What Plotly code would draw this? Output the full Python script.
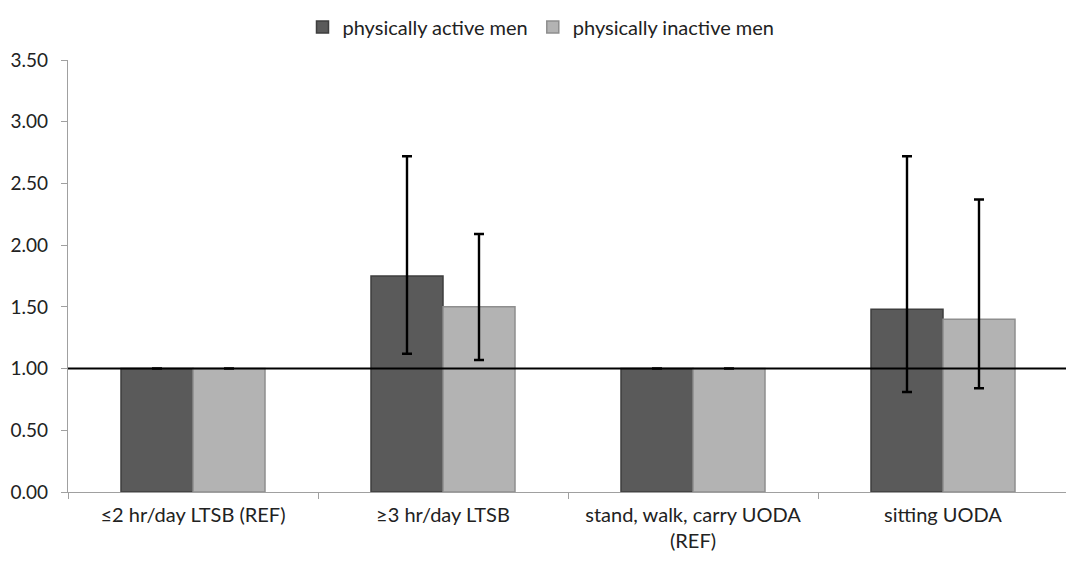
import plotly.graph_objects as go

categories = ["≤2 hr/day LTSB (REF)", "≥3 hr/day LTSB",
              "stand, walk, carry UODA<br>(REF)", "sitting UODA"]
active = [1.00, 1.75, 1.00, 1.48]
active_hi = [None, 2.72, None, 2.72]
active_lo = [None, 1.12, None, 0.81]
inactive = [1.00, 1.50, 1.00, 1.40]
inactive_hi = [None, 2.09, None, 2.37]
inactive_lo = [None, 1.07, None, 0.84]
y_ticks = [0, 0.5, 1.0, 1.5, 2.0, 2.5, 3.0, 3.5]


def errs(v, hi, lo):
    plus = [(h - x) if h is not None else None for x, h in zip(v, hi)]
    minus = [(x - l) if l is not None else None for x, l in zip(v, lo)]
    return plus, minus


ap, am = errs(active, active_hi, active_lo)
ip, im = errs(inactive, inactive_hi, inactive_lo)

font = "Lato, Open Sans, sans-serif"

fig = go.Figure()
fig.add_trace(go.Bar(
    name="physically active men", x=categories, y=active,
    marker=dict(color="#5a5a5a", line=dict(color="#3e3e3e", width=1.5)),
    error_y=dict(type="data", symmetric=False, array=ap, arrayminus=am,
                 color="black", thickness=2.4, width=5),
))
fig.add_trace(go.Bar(
    name="physically inactive men", x=categories, y=inactive,
    marker=dict(color="#b3b3b3", line=dict(color="#8e8e8e", width=1.5)),
    error_y=dict(type="data", symmetric=False, array=ip, arrayminus=im,
                 color="black", thickness=2.4, width=5),
))

fig.add_shape(type="line", xref="paper", yref="y", x0=0, x1=1.01, y0=1, y1=1,
              line=dict(color="black", width=2), layer="above")

fig.update_layout(
    width=1066, height=559,
    margin=dict(l=60, r=6, t=52, b=75, autoexpand=False),
    paper_bgcolor="white", plot_bgcolor="white",
    barmode="group", bargap=0.424, bargroupgap=0,
    font=dict(family=font, size=20, color="#222222"),
    showlegend=True,
    legend=dict(orientation="h", x=0.5, xanchor="center", xref="container",
                y=0.966, yanchor="middle", yref="container",
                font=dict(size=20), itemwidth=30, traceorder="normal"),
    xaxis=dict(showline=True, linecolor="#a0a0a0", linewidth=1.2,
               ticks="outside", tickson="boundaries", ticklen=6, tickcolor="#a0a0a0",
               ticklabelstandoff=5,
               showgrid=False, tickfont=dict(size=20, color="#222222"), automargin=False),
    yaxis=dict(range=[0, 3.5], tickvals=y_ticks, tickformat=".2f",
               showline=True, linecolor="#a0a0a0", linewidth=1.2,
               ticks="outside", ticklen=6, tickcolor="#a0a0a0", ticklabelstandoff=9,
               showgrid=False, zeroline=False, tickfont=dict(size=19, color="#222222"),
               automargin=False),
)

fig.write_html("out.html")
